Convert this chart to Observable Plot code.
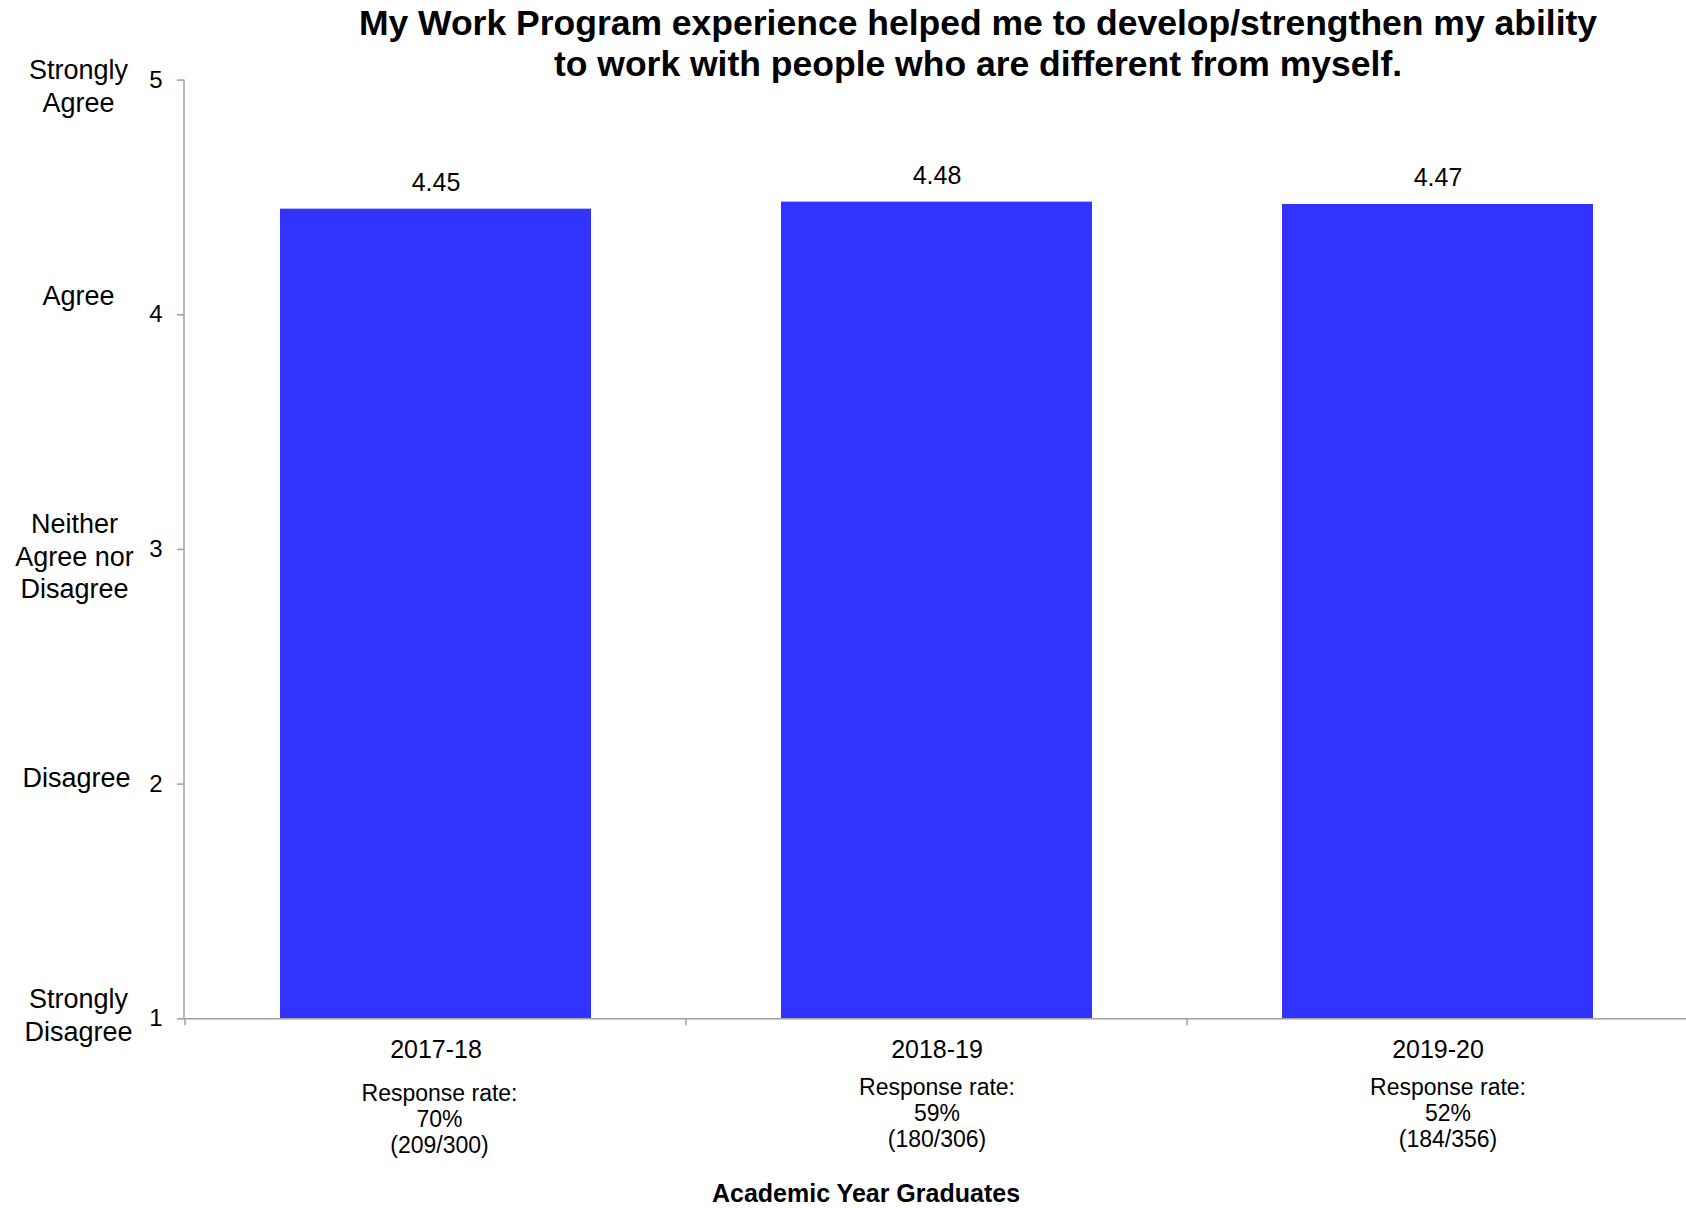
<!DOCTYPE html>
<html><head><meta charset="utf-8">
<script src="https://cdn.jsdelivr.net/npm/d3@7"></script>
<script src="https://cdn.jsdelivr.net/npm/@observablehq/plot@0.6"></script>
<style>
body{margin:0;background:#fff;}
#wrap{position:relative;width:1686px;height:1208px;font-family:"Liberation Sans",Arial,sans-serif;background:#fff;overflow:hidden;}
#title{position:absolute;left:278px;width:1400px;top:3px;text-align:center;font-weight:bold;font-size:35.5px;line-height:41px;color:#000;}
#title div{white-space:nowrap;}
#chart{position:absolute;left:0;top:0;}
</style></head>
<body><div id="wrap"><div id="chart"></div><div id="title"></div></div>
<script>
// ---- data ----
const titleLines = [
  "My Work Program experience helped me to develop/strengthen my ability",
  "to work with people who are different from myself."
];
const years = ["2017-18", "2018-19", "2019-20"];
const means = [4.45, 4.48, 4.47];
const responseRates = ["70%", "59%", "52%"];
const responded = [209, 180, 184];
const surveyed = [300, 306, 356];
const scaleValues = [1, 2, 3, 4, 5];
const scaleLabels = ["Strongly\nDisagree", "Disagree", "Neither\nAgree nor\nDisagree", "Agree", "Strongly\nAgree"];
const xAxisTitle = "Academic Year Graduates";

// ---- layout (not data) ----
const layout = {
  labelDy: [-4.5, -8, 6, -20.5, 5],
  labelDx: [-106, -108, -110, -106, -106],
  respDy: [100, 94, 94],
  respDx: [3.5, 0, 10]
};
const axisColor = "#a0a0a0";
const barColor = "#3333ff";
const font = '"Liberation Sans", Arial, sans-serif';

const table = years.map((year, i) => ({year, mean: means[i], rate: responseRates[i], n: responded[i], total: surveyed[i]}));

const titleEl = document.getElementById("title");
for (const line of titleLines) { const d = document.createElement("div"); d.textContent = line; titleEl.appendChild(d); }

const boundaryTicks = (index, scales, values, dims) => {
  const x = scales.x;
  const bw = x.bandwidth();
  const step = x.step();
  const gap = (step - bw) / 2;
  const yb = dims.height - dims.marginBottom;
  const g = d3.create("svg:g").attr("stroke", axisColor).attr("stroke-width", 1.5);
  const xs = years.map(y => x(y) - gap);
  for (const xv of xs) g.append("line").attr("x1", xv).attr("x2", xv).attr("y1", yb).attr("y2", yb + 7);
  g.append("line").attr("x1", dims.marginLeft).attr("x2", dims.marginLeft).attr("y1", dims.marginTop).attr("y2", yb);
  return g.node();
};

const svg = Plot.plot({
  width: 1686,
  height: 1208,
  marginTop: 79.6,
  marginBottom: 189.7,
  marginLeft: 184,
  marginRight: -3,
  style: {fontFamily: font, fontSize: "24px", color: "#000", background: "transparent", overflow: "hidden"},
  x: {domain: years, paddingInner: 0.38, paddingOuter: 0.19},
  y: {domain: [1, 5]},
  marks: [
    Plot.barY(table, {x: "year", y1: 1, y2: "mean", fill: barColor}),
    Plot.ruleY([1], {stroke: axisColor, strokeWidth: 1.5}),
    boundaryTicks,
    Plot.axisY({ticks: scaleValues, tickSize: 7, tickPadding: 15, fontSize: 24, label: null, stroke: axisColor, strokeWidth: 1.5, fill: "#000", tickFormat: d => String(d)}),
    Plot.axisX({tickSize: 0, tickPadding: 21, fontSize: 25, label: null, fill: "#000"}),
    ...scaleValues.map((v, i) => Plot.text([v], {y: d => d, text: () => scaleLabels[i], frameAnchor: "left", dx: layout.labelDx[i], dy: layout.labelDy[i], textAnchor: "middle", lineAnchor: "middle", lineHeight: 1.2, fontSize: 27, fill: "#000"})),
    Plot.text(table, {x: "year", y: "mean", text: d => d.mean.toFixed(2), dy: -26, fontSize: 25, fill: "#000"}),
    ...table.map((d, i) => Plot.text([d], {x: "year", frameAnchor: "bottom", lineAnchor: "middle", text: r => `Response rate:\n${r.rate}\n(${r.n}/${r.total})`, dx: layout.respDx[i], dy: layout.respDy[i], fontSize: 23, lineHeight: 1.12, fill: "#000"})),
    Plot.text([xAxisTitle], {frameAnchor: "bottom", lineAnchor: "middle", text: d => d, dx: -71, dy: 175, fontWeight: "bold", fontSize: 25, fill: "#000"})
  ]
});
document.getElementById("chart").appendChild(svg);
</script>
</body></html>
